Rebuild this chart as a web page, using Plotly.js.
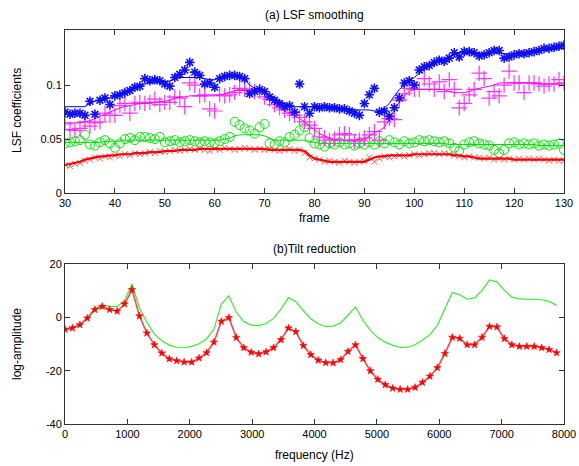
<!DOCTYPE html>
<html>
<head>
<meta charset="utf-8">
<script src="https://cdn.plot.ly/plotly-3.0.1.min.js"></script>
<style>html,body{margin:0;padding:0;background:#fff;}#chart{width:579px;height:466px;}</style>
</head>
<body>
<div id="chart"></div>
<script>
// ---------- (a) LSF smoothing ----------
const frames = [30,31,32,33,34,35,36,37,38,39,40,41,42,43,44,45,46,47,48,49,50,51,52,53,54,55,56,57,58,59,60,61,62,63,64,65,66,67,68,69,70,71,72,73,74,75,76,77,78,79,80,81,82,83,84,85,86,87,88,89,90,91,92,93,94,95,96,97,98,99,100,101,102,103,104,105,106,107,108,109,110,111,112,113,114,115,116,117,118,119,120,121,122,123,124,125,126,127,128,129,130];

const blueRaw = [0.075,0.073,0.074,0.074,0.072,0.085,0.073,0.086,0.088,0.082,0.090,0.091,0.093,0.095,0.098,0.099,0.106,0.104,0.105,0.104,0.101,0.099,0.107,0.110,0.114,0.121,0.112,0.109,0.101,0.102,0.098,0.106,0.108,0.109,0.109,0.108,0.106,0.092,0.094,0.096,0.094,0.089,0.086,0.083,0.080,0.081,0.075,0.101,0.080,0.074,0.080,0.079,0.080,0.079,0.079,0.078,0.078,0.076,0.074,0.072,0.083,0.091,0.097,0.075,0.076,0.071,0.079,0.088,0.102,0.104,0.100,0.114,0.117,0.118,0.121,0.123,0.122,0.125,0.130,0.126,0.131,0.131,0.130,0.127,0.128,0.130,0.132,0.132,0.125,0.126,0.128,0.129,0.129,0.130,0.131,0.132,0.134,0.134,0.135,0.136,0.137];
const blueSmooth = [0.080,0.080,0.080,0.080,0.080,0.083,0.085,0.086,0.087,0.088,0.090,0.091,0.093,0.095,0.097,0.099,0.101,0.102,0.103,0.103,0.103,0.104,0.106,0.107,0.107,0.107,0.107,0.107,0.106,0.105,0.105,0.107,0.108,0.108,0.108,0.108,0.105,0.100,0.097,0.096,0.094,0.091,0.088,0.085,0.083,0.081,0.080,0.080,0.080,0.080,0.080,0.080,0.080,0.080,0.079,0.079,0.078,0.078,0.077,0.077,0.077,0.077,0.076,0.076,0.079,0.083,0.090,0.096,0.100,0.104,0.107,0.111,0.115,0.118,0.121,0.123,0.124,0.126,0.128,0.130,0.130,0.130,0.130,0.129,0.129,0.130,0.130,0.130,0.129,0.129,0.129,0.130,0.130,0.131,0.131,0.132,0.132,0.133,0.133,0.134,0.134];

const magRaw = [0.064,0.059,0.058,0.060,0.066,0.062,0.065,0.066,0.074,0.072,0.072,0.081,0.083,0.074,0.083,0.084,0.083,0.084,0.087,0.082,0.084,0.084,0.089,0.088,0.080,0.102,0.100,0.090,0.091,0.078,0.076,0.091,0.090,0.091,0.093,0.097,0.096,0.096,0.094,0.094,0.089,0.087,0.082,0.079,0.077,0.074,0.072,0.070,0.066,0.063,0.060,0.052,0.051,0.049,0.050,0.054,0.055,0.054,0.048,0.049,0.051,0.054,0.057,0.049,0.066,0.069,0.068,0.086,0.092,0.097,0.096,0.096,0.106,0.101,0.096,0.103,0.094,0.105,0.096,0.079,0.083,0.091,0.096,0.111,0.106,0.088,0.094,0.090,0.100,0.113,0.102,0.102,0.093,0.102,0.102,0.101,0.099,0.101,0.101,0.105,0.102];
const magSmooth = [0.065,0.065,0.065,0.065,0.066,0.067,0.069,0.071,0.073,0.075,0.077,0.079,0.080,0.081,0.082,0.083,0.083,0.084,0.084,0.085,0.085,0.086,0.088,0.089,0.089,0.090,0.090,0.090,0.090,0.090,0.090,0.091,0.092,0.093,0.095,0.095,0.095,0.095,0.094,0.093,0.092,0.088,0.083,0.079,0.076,0.074,0.072,0.069,0.066,0.062,0.059,0.055,0.053,0.051,0.049,0.049,0.049,0.049,0.049,0.050,0.050,0.053,0.056,0.058,0.061,0.068,0.077,0.084,0.090,0.094,0.096,0.096,0.096,0.096,0.096,0.096,0.096,0.094,0.093,0.093,0.093,0.094,0.096,0.097,0.098,0.099,0.100,0.102,0.102,0.102,0.102,0.102,0.102,0.102,0.102,0.101,0.101,0.101,0.101,0.101,0.101];

const greenRaw = [0.046,0.047,0.048,0.049,0.054,0.045,0.044,0.047,0.049,0.046,0.042,0.046,0.050,0.051,0.049,0.052,0.052,0.051,0.050,0.052,0.047,0.048,0.049,0.047,0.048,0.049,0.048,0.047,0.048,0.047,0.046,0.048,0.050,0.052,0.066,0.063,0.060,0.058,0.055,0.061,0.064,0.046,0.045,0.048,0.047,0.052,0.054,0.058,0.061,0.051,0.046,0.045,0.043,0.046,0.045,0.047,0.045,0.046,0.044,0.046,0.045,0.047,0.045,0.048,0.046,0.049,0.047,0.045,0.048,0.046,0.047,0.049,0.048,0.049,0.048,0.047,0.048,0.046,0.042,0.039,0.045,0.047,0.048,0.046,0.045,0.044,0.040,0.037,0.040,0.046,0.047,0.045,0.046,0.045,0.046,0.044,0.045,0.044,0.045,0.046,0.040];
const greenSmooth = [0.047,0.047,0.047,0.047,0.047,0.047,0.047,0.047,0.048,0.048,0.048,0.048,0.049,0.049,0.049,0.049,0.049,0.049,0.049,0.049,0.049,0.049,0.049,0.049,0.049,0.049,0.049,0.049,0.049,0.049,0.049,0.049,0.050,0.051,0.053,0.054,0.054,0.054,0.054,0.054,0.053,0.051,0.049,0.049,0.049,0.049,0.049,0.049,0.049,0.048,0.047,0.046,0.046,0.046,0.046,0.046,0.046,0.046,0.046,0.046,0.046,0.046,0.046,0.046,0.046,0.046,0.046,0.046,0.046,0.046,0.046,0.046,0.046,0.046,0.046,0.046,0.046,0.045,0.045,0.045,0.045,0.045,0.045,0.045,0.045,0.045,0.045,0.045,0.045,0.045,0.045,0.045,0.045,0.045,0.045,0.044,0.044,0.044,0.044,0.044,0.044];

const redRaw = [0.026,0.025,0.027,0.028,0.030,0.031,0.033,0.032,0.034,0.033,0.035,0.034,0.036,0.035,0.037,0.036,0.037,0.038,0.037,0.039,0.038,0.039,0.040,0.039,0.040,0.041,0.040,0.041,0.040,0.039,0.041,0.040,0.042,0.041,0.040,0.041,0.042,0.041,0.040,0.041,0.040,0.041,0.040,0.039,0.040,0.041,0.039,0.040,0.037,0.033,0.032,0.031,0.029,0.030,0.029,0.028,0.030,0.029,0.028,0.029,0.030,0.033,0.029,0.032,0.034,0.033,0.034,0.035,0.034,0.035,0.036,0.035,0.036,0.037,0.037,0.036,0.037,0.036,0.035,0.034,0.033,0.034,0.033,0.033,0.032,0.033,0.031,0.032,0.031,0.032,0.031,0.032,0.031,0.032,0.031,0.032,0.031,0.030,0.031,0.030,0.030];
const redSmooth = [0.026,0.027,0.028,0.029,0.031,0.032,0.033,0.034,0.034,0.035,0.035,0.036,0.036,0.036,0.037,0.037,0.037,0.038,0.038,0.038,0.039,0.039,0.039,0.040,0.040,0.040,0.040,0.041,0.041,0.041,0.041,0.041,0.041,0.041,0.041,0.041,0.041,0.041,0.041,0.041,0.041,0.040,0.040,0.040,0.040,0.040,0.040,0.040,0.039,0.035,0.032,0.031,0.030,0.029,0.029,0.029,0.029,0.029,0.029,0.029,0.029,0.031,0.033,0.034,0.034,0.035,0.035,0.035,0.035,0.035,0.036,0.036,0.036,0.036,0.036,0.036,0.036,0.036,0.035,0.035,0.034,0.034,0.033,0.032,0.032,0.032,0.032,0.032,0.032,0.032,0.031,0.031,0.031,0.031,0.031,0.031,0.031,0.031,0.031,0.031,0.031];

// ---------- (b) Tilt reduction ----------
const freqHz = [0,119,239,358,478,597,716,836,955,1075,1194,1313,1433,1552,1672,1791,1910,2030,2149,2269,2388,2507,2627,2746,2866,2985,3104,3224,3343,3463,3582,3701,3821,3940,4060,4179,4299,4418,4537,4657,4776,4896,5015,5134,5254,5373,5493,5612,5731,5851,5970,6090,6209,6328,6448,6567,6687,6806,6925,7045,7164,7284,7403,7522,7642,7761,7881];
const originalDb = [-4.5,-4.0,-2.8,-0.1,3.4,4.6,4.1,4.0,6.3,12.5,3.5,-1.9,-6.3,-8.8,-10.4,-11.3,-11.4,-10.9,-9.9,-8.1,-4.4,5.0,8.1,1.9,-1.6,-2.9,-3.1,-2.3,-0.4,3.1,7.4,5.9,2.5,-0.5,-2.4,-3.5,-3.3,-2.1,0.8,3.9,-1.1,-4.9,-7.6,-9.3,-10.5,-11.3,-11.2,-10.3,-8.6,-6.5,-3.0,3.3,9.3,8.5,6.8,7.3,10.1,14.0,13.3,10.1,7.6,6.9,6.8,6.8,6.6,6.0,4.5];
const reducedDb = [-4.5,-4.0,-2.8,-0.3,2.9,4.1,2.9,2.3,5.0,10.4,0.5,-5.9,-10.3,-13.4,-15.6,-16.3,-16.8,-16.8,-15.3,-13.3,-9.3,-1.5,-0.1,-7.6,-11.4,-13.1,-13.7,-13.0,-11.4,-8.4,-4.0,-5.4,-10.6,-14.0,-16.1,-17.0,-17.1,-15.9,-12.8,-10.3,-15.5,-20.1,-23.3,-25.3,-26.6,-27.0,-27.0,-26.3,-24.4,-22.1,-18.9,-13.6,-7.5,-7.9,-10.3,-10.3,-7.5,-3.4,-3.6,-8.0,-10.3,-10.9,-10.9,-10.9,-11.4,-12.1,-13.3];

const topTicks = [30,40,50,60,70,80,90,100,110,120,130];
const topYTicks = [0,0.05,0.1];
const topYLabels = ['0','0.05','0.1'];
const botTicks = [0,1000,2000,3000,4000,5000,6000,7000,8000];
const botYTicks = [-40,-20,0,20];

const FONT = 'Liberation Sans, Arial, Helvetica, sans-serif';

function rawTrace(y, color, symbol, size, lw) {
  return {x: frames, y: y, xaxis:'x', yaxis:'y', mode:'markers', type:'scatter',
    marker:{symbol:symbol, size:size, color:color, line:{color:color, width:lw}},
    hoverinfo:'skip', showlegend:false, cliponaxis:true};
}
function lineTrace(y, color, w) {
  return {x: frames, y: y, xaxis:'x', yaxis:'y', mode:'lines', type:'scatter',
    line:{color:color, width:w}, hoverinfo:'skip', showlegend:false};
}

const data = [
  rawTrace(greenRaw, '#00ee00', 'circle-open', 9, 1),
  lineTrace(greenSmooth, '#00dd00', 1),
  rawTrace(redRaw, 'rgba(255,40,40,0.75)', 'x-thin-open', 6, 1),
  lineTrace(redSmooth, '#ff0000', 2.2),
  rawTrace(magRaw, '#ff33ff', 'cross-thin-open', 11, 1.2),
  lineTrace(magSmooth, '#ff00ff', 1),
  rawTrace(blueRaw, '#1010ff', 'asterisk-open', 8, 1.6),
  lineTrace(blueSmooth, '#0000ff', 1),
  {x: freqHz, y: originalDb, xaxis:'x2', yaxis:'y2', mode:'lines', type:'scatter',
    line:{color:'#33ee33', width:1.2}, hoverinfo:'skip', showlegend:false},
  {x: freqHz, y: reducedDb, xaxis:'x2', yaxis:'y2', mode:'lines+markers', type:'scatter',
    line:{color:'rgb(255,70,70)', width:1.6},
    marker:{symbol:'star', size:5.5, color:'#ff0000', line:{color:'#ff0000', width:0.6}},
    hoverinfo:'skip', showlegend:false}
];

const axBase = {
  showline:true, linecolor:'#333', linewidth:1, mirror:'ticks',
  ticks:'inside', ticklen:5, tickcolor:'#333', tickwidth:1,
  showgrid:false, zeroline:false,
  tickfont:{family:FONT, size:11, color:'#000'}
};

const layout = {
  width:579, height:466,
  margin:{l:65, r:15, t:30, b:42},
  paper_bgcolor:'#fff', plot_bgcolor:'#fff',
  font:{family:FONT, size:11, color:'#000'},
  xaxis: Object.assign({}, axBase, {domain:[0,1], anchor:'y', range:[30,130], tickvals:topTicks, ticktext:topTicks.map(String)}),
  yaxis: Object.assign({}, axBase, {domain:[0.586,1], anchor:'x', range:[0,0.151], tickvals:topYTicks, ticktext:topYLabels}),
  xaxis2: Object.assign({}, axBase, {domain:[0,1], anchor:'y2', range:[0,8000], tickvals:botTicks, ticktext:botTicks.map(String)}),
  yaxis2: Object.assign({}, axBase, {domain:[0,0.406], anchor:'x2', range:[-40,20], tickvals:botYTicks, ticktext:botYTicks.map(String)}),
  annotations: [
    {text:'(a) LSF smoothing', xref:'paper', yref:'paper', x:0.5, y:(424-15)/394, showarrow:false, font:{family:FONT, size:12}, xanchor:'center', yanchor:'middle'},
    {text:'frame', xref:'paper', yref:'paper', x:0.5, y:(424-218)/394, showarrow:false, font:{family:FONT, size:12}, xanchor:'center', yanchor:'middle'},
    {text:'LSF coefficients', xref:'paper', yref:'paper', x:(17-65)/499, y:(424-111)/394, showarrow:false, textangle:-90, font:{family:FONT, size:12}, xanchor:'center', yanchor:'middle'},
    {text:'(b)Tilt reduction', xref:'paper', yref:'paper', x:0.5, y:(424-249)/394, showarrow:false, font:{family:FONT, size:12}, xanchor:'center', yanchor:'middle'},
    {text:'log-amplitude', xref:'paper', yref:'paper', x:(17-65)/499, y:(424-344)/394, showarrow:false, textangle:-90, font:{family:FONT, size:12}, xanchor:'center', yanchor:'middle'},
    {text:'frequency (Hz)', xref:'paper', yref:'paper', x:0.5, y:(424-455)/394, showarrow:false, font:{family:FONT, size:12}, xanchor:'center', yanchor:'middle'}
  ]
};

Plotly.newPlot('chart', data, layout, {displayModeBar:false, staticPlot:true});
</script>
</body>
</html>
